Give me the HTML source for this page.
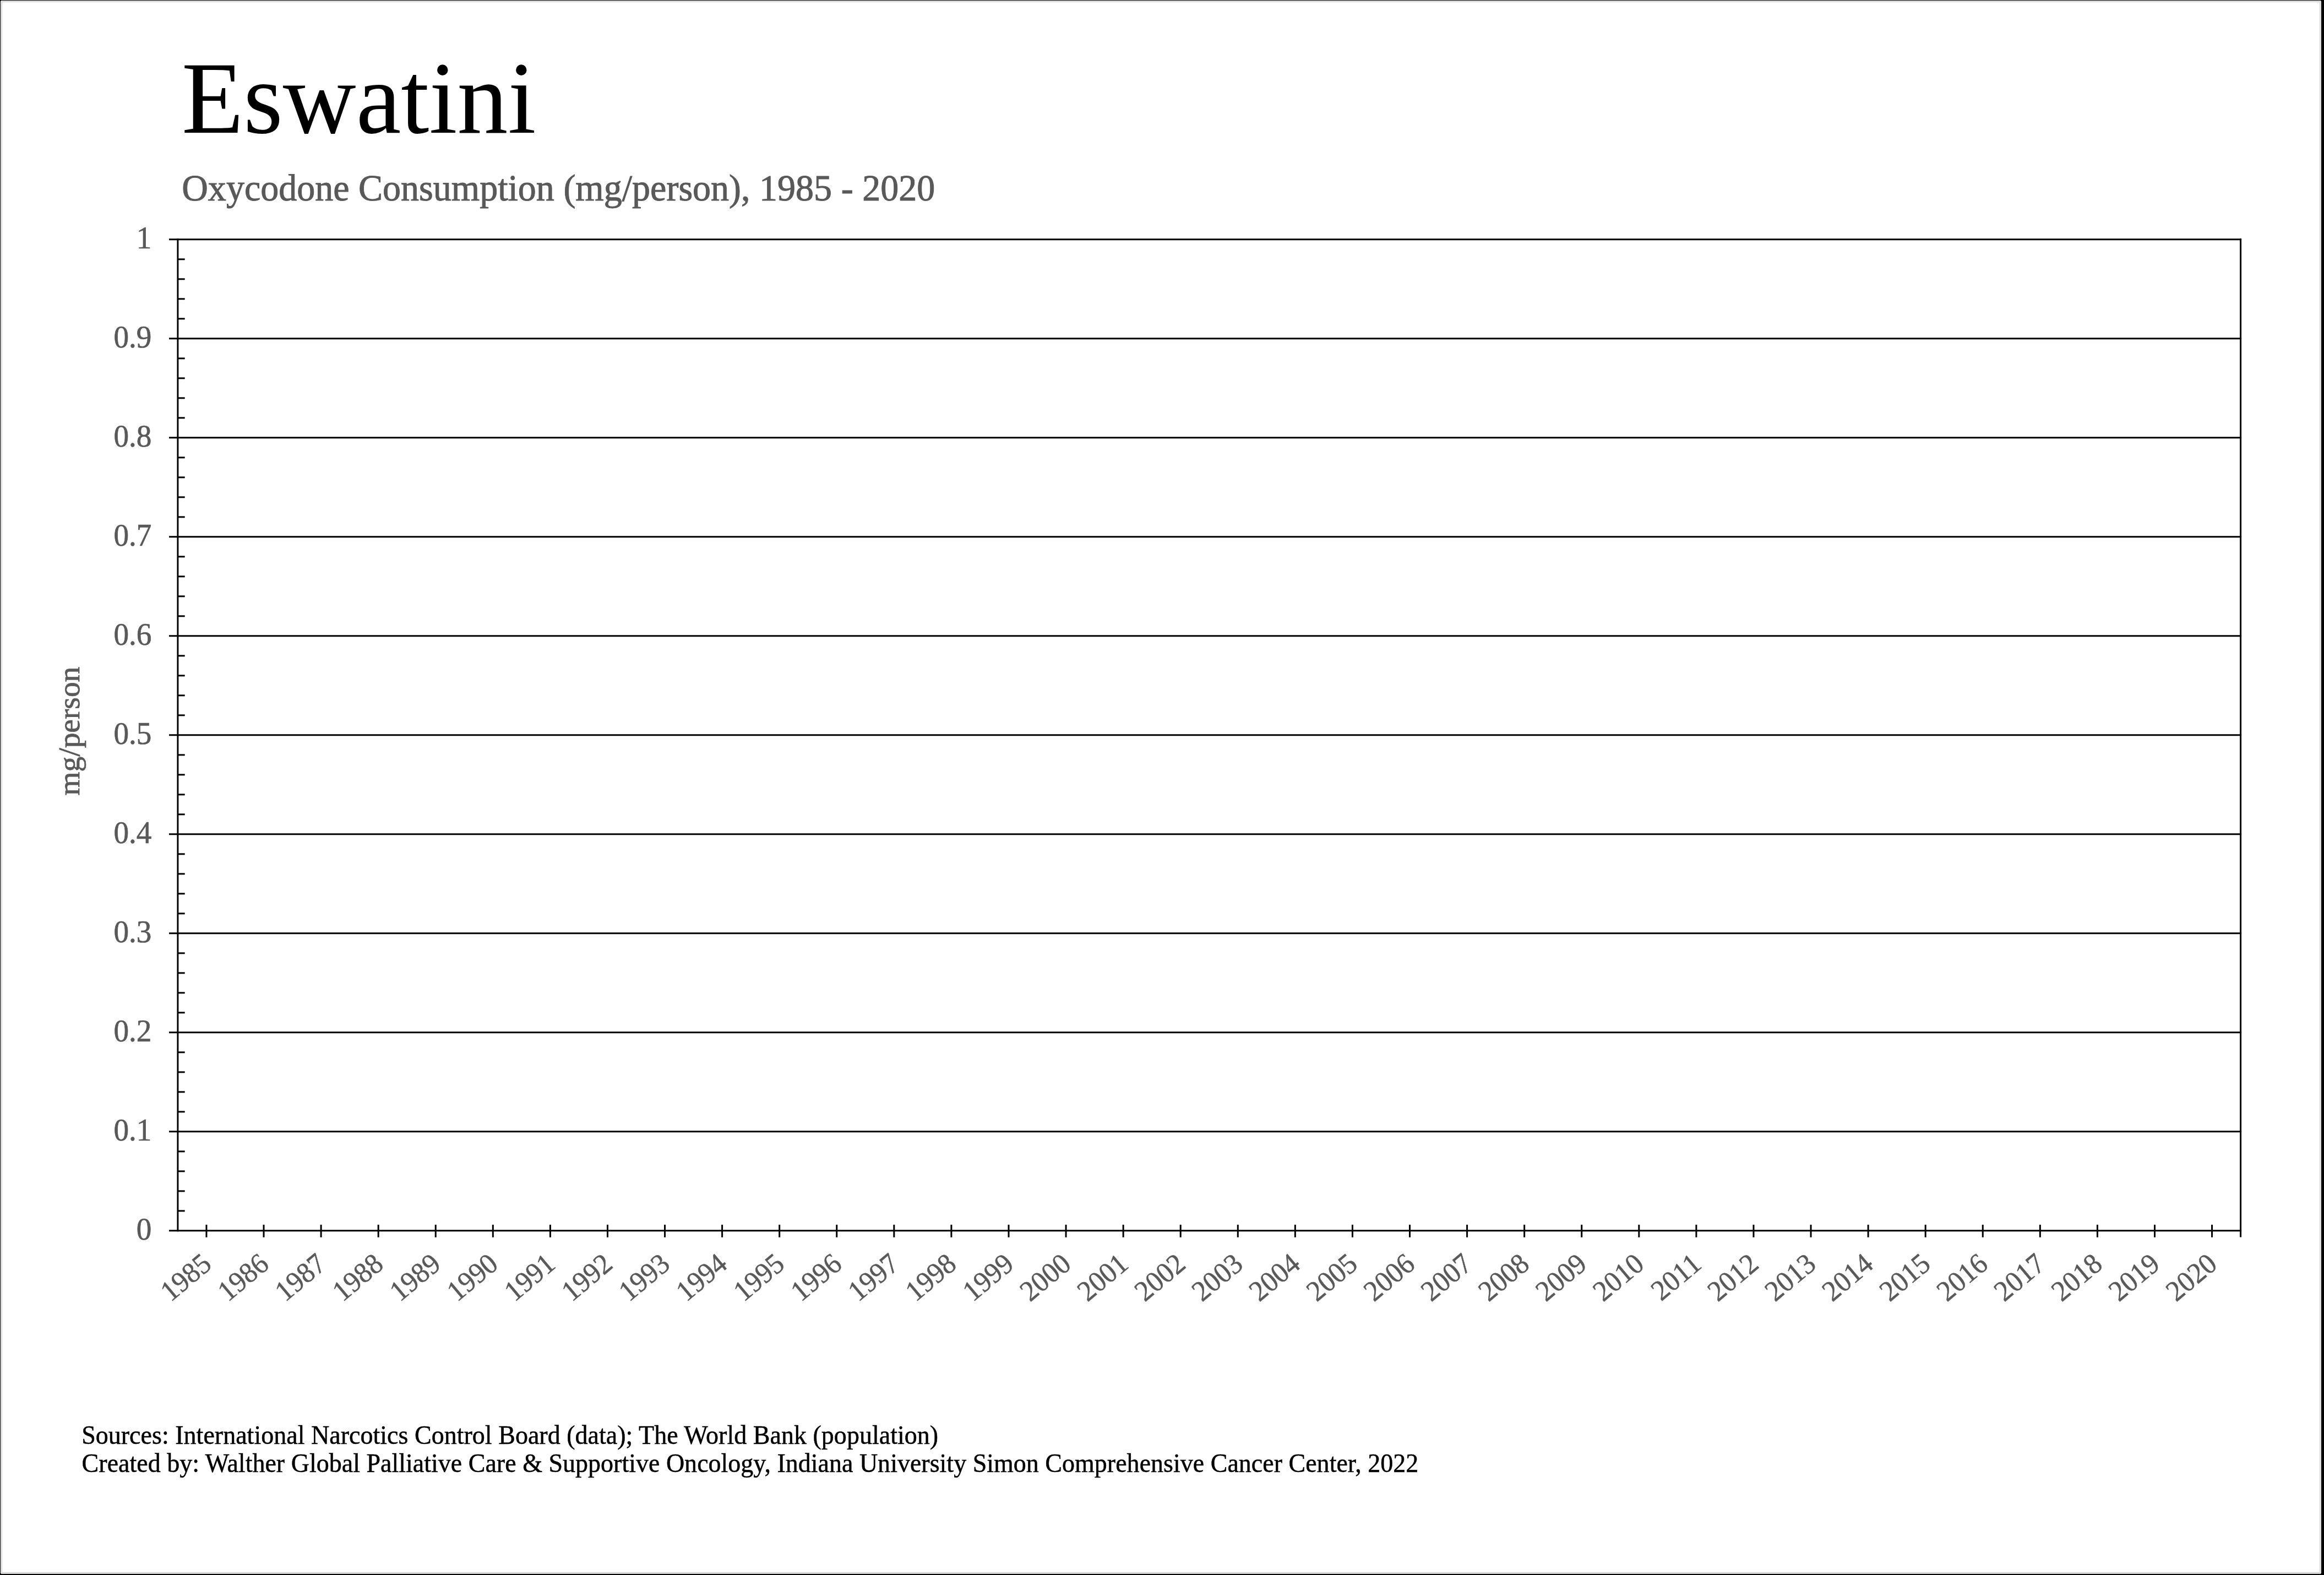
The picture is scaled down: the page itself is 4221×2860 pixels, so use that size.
<!DOCTYPE html>
<html><head><meta charset="utf-8"><style>
html,body{margin:0;padding:0;width:4221px;height:2860px;overflow:hidden;background:#000;}
#frame{position:absolute;left:1px;top:1px;width:4215px;height:2857px;background:#fff;box-shadow:inset 0 0 0 1px #e8e8e8, inset 0 0 0 3px #d8d8d8, inset 0 0 2px 3px #e8e8e8;}
#frame{}
.nc{position:absolute;width:1px;height:1px;background:#000;z-index:2;}
svg{position:absolute;left:0;top:0;will-change:transform;}
text{font-family:"Liberation Serif", serif;}
</style></head><body>
<div id="frame"></div>
<div class="nc" style="left:1px;top:1px"></div><div class="nc" style="left:4215px;top:1px"></div><div class="nc" style="left:1px;top:2857px"></div><div class="nc" style="left:4215px;top:2857px"></div>
<svg width="4221" height="2860" viewBox="0 0 4221 2860">
<line x1="307.00" y1="434.80" x2="4071.10" y2="434.80" stroke="#000" stroke-width="3"/>
<line x1="307.00" y1="614.81" x2="4071.10" y2="614.81" stroke="#000" stroke-width="3"/>
<line x1="307.00" y1="794.81" x2="4071.10" y2="794.81" stroke="#000" stroke-width="3"/>
<line x1="307.00" y1="974.82" x2="4071.10" y2="974.82" stroke="#000" stroke-width="3"/>
<line x1="307.00" y1="1154.82" x2="4071.10" y2="1154.82" stroke="#000" stroke-width="3"/>
<line x1="307.00" y1="1334.83" x2="4071.10" y2="1334.83" stroke="#000" stroke-width="3"/>
<line x1="307.00" y1="1514.83" x2="4071.10" y2="1514.83" stroke="#000" stroke-width="3"/>
<line x1="307.00" y1="1694.84" x2="4071.10" y2="1694.84" stroke="#000" stroke-width="3"/>
<line x1="307.00" y1="1874.84" x2="4071.10" y2="1874.84" stroke="#000" stroke-width="3"/>
<line x1="307.00" y1="2054.84" x2="4071.10" y2="2054.84" stroke="#000" stroke-width="3"/>
<line x1="307.00" y1="2234.85" x2="4071.10" y2="2234.85" stroke="#000" stroke-width="3"/>
<line x1="322.90" y1="433.30" x2="322.90" y2="2236.35" stroke="#000" stroke-width="3"/>
<line x1="4069.60" y1="433.30" x2="4069.60" y2="2246.50" stroke="#000" stroke-width="3"/>
<line x1="322.90" y1="470.80" x2="335.70" y2="470.80" stroke="#000" stroke-width="3"/>
<line x1="322.90" y1="506.80" x2="335.70" y2="506.80" stroke="#000" stroke-width="3"/>
<line x1="322.90" y1="542.80" x2="335.70" y2="542.80" stroke="#000" stroke-width="3"/>
<line x1="322.90" y1="578.80" x2="335.70" y2="578.80" stroke="#000" stroke-width="3"/>
<line x1="322.90" y1="650.81" x2="335.70" y2="650.81" stroke="#000" stroke-width="3"/>
<line x1="322.90" y1="686.81" x2="335.70" y2="686.81" stroke="#000" stroke-width="3"/>
<line x1="322.90" y1="722.81" x2="335.70" y2="722.81" stroke="#000" stroke-width="3"/>
<line x1="322.90" y1="758.81" x2="335.70" y2="758.81" stroke="#000" stroke-width="3"/>
<line x1="322.90" y1="830.81" x2="335.70" y2="830.81" stroke="#000" stroke-width="3"/>
<line x1="322.90" y1="866.81" x2="335.70" y2="866.81" stroke="#000" stroke-width="3"/>
<line x1="322.90" y1="902.81" x2="335.70" y2="902.81" stroke="#000" stroke-width="3"/>
<line x1="322.90" y1="938.81" x2="335.70" y2="938.81" stroke="#000" stroke-width="3"/>
<line x1="322.90" y1="1010.82" x2="335.70" y2="1010.82" stroke="#000" stroke-width="3"/>
<line x1="322.90" y1="1046.82" x2="335.70" y2="1046.82" stroke="#000" stroke-width="3"/>
<line x1="322.90" y1="1082.82" x2="335.70" y2="1082.82" stroke="#000" stroke-width="3"/>
<line x1="322.90" y1="1118.82" x2="335.70" y2="1118.82" stroke="#000" stroke-width="3"/>
<line x1="322.90" y1="1190.82" x2="335.70" y2="1190.82" stroke="#000" stroke-width="3"/>
<line x1="322.90" y1="1226.82" x2="335.70" y2="1226.82" stroke="#000" stroke-width="3"/>
<line x1="322.90" y1="1262.82" x2="335.70" y2="1262.82" stroke="#000" stroke-width="3"/>
<line x1="322.90" y1="1298.82" x2="335.70" y2="1298.82" stroke="#000" stroke-width="3"/>
<line x1="322.90" y1="1370.83" x2="335.70" y2="1370.83" stroke="#000" stroke-width="3"/>
<line x1="322.90" y1="1406.83" x2="335.70" y2="1406.83" stroke="#000" stroke-width="3"/>
<line x1="322.90" y1="1442.83" x2="335.70" y2="1442.83" stroke="#000" stroke-width="3"/>
<line x1="322.90" y1="1478.83" x2="335.70" y2="1478.83" stroke="#000" stroke-width="3"/>
<line x1="322.90" y1="1550.83" x2="335.70" y2="1550.83" stroke="#000" stroke-width="3"/>
<line x1="322.90" y1="1586.83" x2="335.70" y2="1586.83" stroke="#000" stroke-width="3"/>
<line x1="322.90" y1="1622.83" x2="335.70" y2="1622.83" stroke="#000" stroke-width="3"/>
<line x1="322.90" y1="1658.83" x2="335.70" y2="1658.83" stroke="#000" stroke-width="3"/>
<line x1="322.90" y1="1730.84" x2="335.70" y2="1730.84" stroke="#000" stroke-width="3"/>
<line x1="322.90" y1="1766.84" x2="335.70" y2="1766.84" stroke="#000" stroke-width="3"/>
<line x1="322.90" y1="1802.84" x2="335.70" y2="1802.84" stroke="#000" stroke-width="3"/>
<line x1="322.90" y1="1838.84" x2="335.70" y2="1838.84" stroke="#000" stroke-width="3"/>
<line x1="322.90" y1="1910.84" x2="335.70" y2="1910.84" stroke="#000" stroke-width="3"/>
<line x1="322.90" y1="1946.84" x2="335.70" y2="1946.84" stroke="#000" stroke-width="3"/>
<line x1="322.90" y1="1982.84" x2="335.70" y2="1982.84" stroke="#000" stroke-width="3"/>
<line x1="322.90" y1="2018.84" x2="335.70" y2="2018.84" stroke="#000" stroke-width="3"/>
<line x1="322.90" y1="2090.85" x2="335.70" y2="2090.85" stroke="#000" stroke-width="3"/>
<line x1="322.90" y1="2126.85" x2="335.70" y2="2126.85" stroke="#000" stroke-width="3"/>
<line x1="322.90" y1="2162.85" x2="335.70" y2="2162.85" stroke="#000" stroke-width="3"/>
<line x1="322.90" y1="2198.85" x2="335.70" y2="2198.85" stroke="#000" stroke-width="3"/>
<line x1="374.94" y1="2223.90" x2="374.94" y2="2246.80" stroke="#000" stroke-width="3"/>
<line x1="479.01" y1="2223.90" x2="479.01" y2="2246.80" stroke="#000" stroke-width="3"/>
<line x1="583.09" y1="2223.90" x2="583.09" y2="2246.80" stroke="#000" stroke-width="3"/>
<line x1="687.16" y1="2223.90" x2="687.16" y2="2246.80" stroke="#000" stroke-width="3"/>
<line x1="791.24" y1="2223.90" x2="791.24" y2="2246.80" stroke="#000" stroke-width="3"/>
<line x1="895.31" y1="2223.90" x2="895.31" y2="2246.80" stroke="#000" stroke-width="3"/>
<line x1="999.39" y1="2223.90" x2="999.39" y2="2246.80" stroke="#000" stroke-width="3"/>
<line x1="1103.46" y1="2223.90" x2="1103.46" y2="2246.80" stroke="#000" stroke-width="3"/>
<line x1="1207.54" y1="2223.90" x2="1207.54" y2="2246.80" stroke="#000" stroke-width="3"/>
<line x1="1311.61" y1="2223.90" x2="1311.61" y2="2246.80" stroke="#000" stroke-width="3"/>
<line x1="1415.69" y1="2223.90" x2="1415.69" y2="2246.80" stroke="#000" stroke-width="3"/>
<line x1="1519.76" y1="2223.90" x2="1519.76" y2="2246.80" stroke="#000" stroke-width="3"/>
<line x1="1623.84" y1="2223.90" x2="1623.84" y2="2246.80" stroke="#000" stroke-width="3"/>
<line x1="1727.91" y1="2223.90" x2="1727.91" y2="2246.80" stroke="#000" stroke-width="3"/>
<line x1="1831.99" y1="2223.90" x2="1831.99" y2="2246.80" stroke="#000" stroke-width="3"/>
<line x1="1936.06" y1="2223.90" x2="1936.06" y2="2246.80" stroke="#000" stroke-width="3"/>
<line x1="2040.14" y1="2223.90" x2="2040.14" y2="2246.80" stroke="#000" stroke-width="3"/>
<line x1="2144.21" y1="2223.90" x2="2144.21" y2="2246.80" stroke="#000" stroke-width="3"/>
<line x1="2248.29" y1="2223.90" x2="2248.29" y2="2246.80" stroke="#000" stroke-width="3"/>
<line x1="2352.36" y1="2223.90" x2="2352.36" y2="2246.80" stroke="#000" stroke-width="3"/>
<line x1="2456.44" y1="2223.90" x2="2456.44" y2="2246.80" stroke="#000" stroke-width="3"/>
<line x1="2560.51" y1="2223.90" x2="2560.51" y2="2246.80" stroke="#000" stroke-width="3"/>
<line x1="2664.59" y1="2223.90" x2="2664.59" y2="2246.80" stroke="#000" stroke-width="3"/>
<line x1="2768.66" y1="2223.90" x2="2768.66" y2="2246.80" stroke="#000" stroke-width="3"/>
<line x1="2872.74" y1="2223.90" x2="2872.74" y2="2246.80" stroke="#000" stroke-width="3"/>
<line x1="2976.81" y1="2223.90" x2="2976.81" y2="2246.80" stroke="#000" stroke-width="3"/>
<line x1="3080.89" y1="2223.90" x2="3080.89" y2="2246.80" stroke="#000" stroke-width="3"/>
<line x1="3184.96" y1="2223.90" x2="3184.96" y2="2246.80" stroke="#000" stroke-width="3"/>
<line x1="3289.04" y1="2223.90" x2="3289.04" y2="2246.80" stroke="#000" stroke-width="3"/>
<line x1="3393.11" y1="2223.90" x2="3393.11" y2="2246.80" stroke="#000" stroke-width="3"/>
<line x1="3497.19" y1="2223.90" x2="3497.19" y2="2246.80" stroke="#000" stroke-width="3"/>
<line x1="3601.26" y1="2223.90" x2="3601.26" y2="2246.80" stroke="#000" stroke-width="3"/>
<line x1="3705.34" y1="2223.90" x2="3705.34" y2="2246.80" stroke="#000" stroke-width="3"/>
<line x1="3809.41" y1="2223.90" x2="3809.41" y2="2246.80" stroke="#000" stroke-width="3"/>
<line x1="3913.49" y1="2223.90" x2="3913.49" y2="2246.80" stroke="#000" stroke-width="3"/>
<line x1="4017.56" y1="2223.90" x2="4017.56" y2="2246.80" stroke="#000" stroke-width="3"/>
<text transform="translate(329.90,241.00)  scale(0.9874,1)" font-size="186.3" fill="#000" text-anchor="start">Eswatini</text>
<text transform="translate(330.19,363.60)  scale(0.9640,1)" font-size="68.5" fill="#595959" stroke="#595959" stroke-width="1.0" text-anchor="start">Oxycodone Consumption (mg/person), 1985 - 2020</text>
<text transform="translate(275.46,451.14)  scale(0.9600,1)" font-size="57.5" fill="#595959" stroke="#595959" stroke-width="0.7" text-anchor="end">1</text>
<text transform="translate(275.46,631.14)  scale(0.9600,1)" font-size="57.5" fill="#595959" stroke="#595959" stroke-width="0.7" text-anchor="end">0.9</text>
<text transform="translate(275.46,811.15)  scale(0.9600,1)" font-size="57.5" fill="#595959" stroke="#595959" stroke-width="0.7" text-anchor="end">0.8</text>
<text transform="translate(275.46,991.15)  scale(0.9600,1)" font-size="57.5" fill="#595959" stroke="#595959" stroke-width="0.7" text-anchor="end">0.7</text>
<text transform="translate(275.46,1171.16)  scale(0.9600,1)" font-size="57.5" fill="#595959" stroke="#595959" stroke-width="0.7" text-anchor="end">0.6</text>
<text transform="translate(275.46,1351.16)  scale(0.9600,1)" font-size="57.5" fill="#595959" stroke="#595959" stroke-width="0.7" text-anchor="end">0.5</text>
<text transform="translate(275.46,1531.17)  scale(0.9600,1)" font-size="57.5" fill="#595959" stroke="#595959" stroke-width="0.7" text-anchor="end">0.4</text>
<text transform="translate(275.46,1711.17)  scale(0.9600,1)" font-size="57.5" fill="#595959" stroke="#595959" stroke-width="0.7" text-anchor="end">0.3</text>
<text transform="translate(275.46,1891.18)  scale(0.9600,1)" font-size="57.5" fill="#595959" stroke="#595959" stroke-width="0.7" text-anchor="end">0.2</text>
<text transform="translate(275.46,2071.18)  scale(0.9600,1)" font-size="57.5" fill="#595959" stroke="#595959" stroke-width="0.7" text-anchor="end">0.1</text>
<text transform="translate(275.46,2251.19)  scale(0.9600,1)" font-size="57.5" fill="#595959" stroke="#595959" stroke-width="0.7" text-anchor="end">0</text>
<text transform="translate(387.14,2300.20) rotate(-40) scale(0.9600,1)" font-size="52.5" fill="#595959" stroke="#595959" stroke-width="0.5" text-anchor="end">1985</text>
<text transform="translate(491.21,2300.20) rotate(-40) scale(0.9600,1)" font-size="52.5" fill="#595959" stroke="#595959" stroke-width="0.5" text-anchor="end">1986</text>
<text transform="translate(595.29,2300.20) rotate(-40) scale(0.9600,1)" font-size="52.5" fill="#595959" stroke="#595959" stroke-width="0.5" text-anchor="end">1987</text>
<text transform="translate(699.36,2300.20) rotate(-40) scale(0.9600,1)" font-size="52.5" fill="#595959" stroke="#595959" stroke-width="0.5" text-anchor="end">1988</text>
<text transform="translate(803.44,2300.20) rotate(-40) scale(0.9600,1)" font-size="52.5" fill="#595959" stroke="#595959" stroke-width="0.5" text-anchor="end">1989</text>
<text transform="translate(907.51,2300.20) rotate(-40) scale(0.9600,1)" font-size="52.5" fill="#595959" stroke="#595959" stroke-width="0.5" text-anchor="end">1990</text>
<text transform="translate(1011.59,2300.20) rotate(-40) scale(0.9600,1)" font-size="52.5" fill="#595959" stroke="#595959" stroke-width="0.5" text-anchor="end">1991</text>
<text transform="translate(1115.66,2300.20) rotate(-40) scale(0.9600,1)" font-size="52.5" fill="#595959" stroke="#595959" stroke-width="0.5" text-anchor="end">1992</text>
<text transform="translate(1219.74,2300.20) rotate(-40) scale(0.9600,1)" font-size="52.5" fill="#595959" stroke="#595959" stroke-width="0.5" text-anchor="end">1993</text>
<text transform="translate(1323.81,2300.20) rotate(-40) scale(0.9600,1)" font-size="52.5" fill="#595959" stroke="#595959" stroke-width="0.5" text-anchor="end">1994</text>
<text transform="translate(1427.89,2300.20) rotate(-40) scale(0.9600,1)" font-size="52.5" fill="#595959" stroke="#595959" stroke-width="0.5" text-anchor="end">1995</text>
<text transform="translate(1531.96,2300.20) rotate(-40) scale(0.9600,1)" font-size="52.5" fill="#595959" stroke="#595959" stroke-width="0.5" text-anchor="end">1996</text>
<text transform="translate(1636.04,2300.20) rotate(-40) scale(0.9600,1)" font-size="52.5" fill="#595959" stroke="#595959" stroke-width="0.5" text-anchor="end">1997</text>
<text transform="translate(1740.11,2300.20) rotate(-40) scale(0.9600,1)" font-size="52.5" fill="#595959" stroke="#595959" stroke-width="0.5" text-anchor="end">1998</text>
<text transform="translate(1844.19,2300.20) rotate(-40) scale(0.9600,1)" font-size="52.5" fill="#595959" stroke="#595959" stroke-width="0.5" text-anchor="end">1999</text>
<text transform="translate(1948.26,2300.20) rotate(-40) scale(0.9600,1)" font-size="52.5" fill="#595959" stroke="#595959" stroke-width="0.5" text-anchor="end">2000</text>
<text transform="translate(2052.34,2300.20) rotate(-40) scale(0.9600,1)" font-size="52.5" fill="#595959" stroke="#595959" stroke-width="0.5" text-anchor="end">2001</text>
<text transform="translate(2156.41,2300.20) rotate(-40) scale(0.9600,1)" font-size="52.5" fill="#595959" stroke="#595959" stroke-width="0.5" text-anchor="end">2002</text>
<text transform="translate(2260.49,2300.20) rotate(-40) scale(0.9600,1)" font-size="52.5" fill="#595959" stroke="#595959" stroke-width="0.5" text-anchor="end">2003</text>
<text transform="translate(2364.56,2300.20) rotate(-40) scale(0.9600,1)" font-size="52.5" fill="#595959" stroke="#595959" stroke-width="0.5" text-anchor="end">2004</text>
<text transform="translate(2468.64,2300.20) rotate(-40) scale(0.9600,1)" font-size="52.5" fill="#595959" stroke="#595959" stroke-width="0.5" text-anchor="end">2005</text>
<text transform="translate(2572.71,2300.20) rotate(-40) scale(0.9600,1)" font-size="52.5" fill="#595959" stroke="#595959" stroke-width="0.5" text-anchor="end">2006</text>
<text transform="translate(2676.79,2300.20) rotate(-40) scale(0.9600,1)" font-size="52.5" fill="#595959" stroke="#595959" stroke-width="0.5" text-anchor="end">2007</text>
<text transform="translate(2780.86,2300.20) rotate(-40) scale(0.9600,1)" font-size="52.5" fill="#595959" stroke="#595959" stroke-width="0.5" text-anchor="end">2008</text>
<text transform="translate(2884.94,2300.20) rotate(-40) scale(0.9600,1)" font-size="52.5" fill="#595959" stroke="#595959" stroke-width="0.5" text-anchor="end">2009</text>
<text transform="translate(2989.01,2300.20) rotate(-40) scale(0.9600,1)" font-size="52.5" fill="#595959" stroke="#595959" stroke-width="0.5" text-anchor="end">2010</text>
<text transform="translate(3093.09,2300.20) rotate(-40) scale(0.9600,1)" font-size="52.5" fill="#595959" stroke="#595959" stroke-width="0.5" text-anchor="end">2011</text>
<text transform="translate(3197.16,2300.20) rotate(-40) scale(0.9600,1)" font-size="52.5" fill="#595959" stroke="#595959" stroke-width="0.5" text-anchor="end">2012</text>
<text transform="translate(3301.24,2300.20) rotate(-40) scale(0.9600,1)" font-size="52.5" fill="#595959" stroke="#595959" stroke-width="0.5" text-anchor="end">2013</text>
<text transform="translate(3405.31,2300.20) rotate(-40) scale(0.9600,1)" font-size="52.5" fill="#595959" stroke="#595959" stroke-width="0.5" text-anchor="end">2014</text>
<text transform="translate(3509.39,2300.20) rotate(-40) scale(0.9600,1)" font-size="52.5" fill="#595959" stroke="#595959" stroke-width="0.5" text-anchor="end">2015</text>
<text transform="translate(3613.46,2300.20) rotate(-40) scale(0.9600,1)" font-size="52.5" fill="#595959" stroke="#595959" stroke-width="0.5" text-anchor="end">2016</text>
<text transform="translate(3717.54,2300.20) rotate(-40) scale(0.9600,1)" font-size="52.5" fill="#595959" stroke="#595959" stroke-width="0.5" text-anchor="end">2017</text>
<text transform="translate(3821.61,2300.20) rotate(-40) scale(0.9600,1)" font-size="52.5" fill="#595959" stroke="#595959" stroke-width="0.5" text-anchor="end">2018</text>
<text transform="translate(3925.69,2300.20) rotate(-40) scale(0.9600,1)" font-size="52.5" fill="#595959" stroke="#595959" stroke-width="0.5" text-anchor="end">2019</text>
<text transform="translate(4029.76,2300.20) rotate(-40) scale(0.9600,1)" font-size="52.5" fill="#595959" stroke="#595959" stroke-width="0.5" text-anchor="end">2020</text>
<text transform="translate(144.20,1327.60) rotate(-90) scale(1.0000,1)" font-size="55.4" fill="#595959" stroke="#595959" stroke-width="0.8" text-anchor="middle">mg/person</text>
<text transform="translate(148.13,2622.30)  scale(0.9498,1)" font-size="48.5" fill="#000" stroke="#000" stroke-width="0.5" text-anchor="start">Sources: International Narcotics Control Board (data); The World Bank (population)</text>
<text transform="translate(148.62,2673.20)  scale(0.9492,1)" font-size="48.5" fill="#000" stroke="#000" stroke-width="0.5" text-anchor="start">Created by: Walther Global Palliative Care &amp; Supportive Oncology, Indiana University Simon Comprehensive Cancer Center, 2022</text>
</svg>
</body></html>
